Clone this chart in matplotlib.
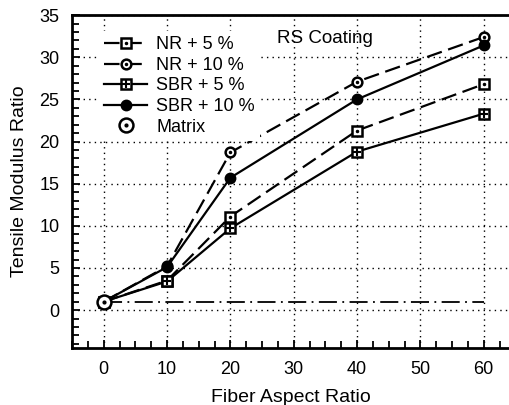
import matplotlib

matplotlib.use("Agg")
import matplotlib.pyplot as plt  # noqa: E402
from matplotlib.legend_handler import HandlerTuple  # noqa: E402
from matplotlib.ticker import MultipleLocator  # noqa: E402

plt.rcParams["font.family"] = ["Liberation Sans", "DejaVu Sans"]

# data
aspect_ratio = [0, 10, 20, 40, 60]
nr_5 = [1.0, 3.5, 11.1, 21.3, 26.8]
nr_10 = [1.0, 5.2, 18.7, 27.1, 32.4]
sbr_5 = [1.0, 3.4, 9.7, 18.8, 23.3]
sbr_10 = [1.0, 5.1, 15.7, 25.0, 31.4]
matrix_x = [0, 60]
matrix_y = [1.0, 1.0]
series_labels = ["NR + 5 %", "NR + 10 %", "SBR + 5 %", "SBR + 10 %", "Matrix"]

fig = plt.figure(figsize=(5.09, 4.05), dpi=100)
ax = fig.add_axes([0.1415, 0.1407, 0.8585, 0.822])

LONG_DASH = (0, (7, 3))
DASH_DOT = (0, (10, 3, 1, 3))

ax.plot(matrix_x, matrix_y, color="black", linestyle=DASH_DOT, linewidth=1.3)

h1 = ax.plot(aspect_ratio, nr_5, color="black", linestyle=LONG_DASH, linewidth=1.6,
             marker="s", markersize=7, mfc="white", mec="black", mew=1.8)[0]
h1d = ax.plot(aspect_ratio, nr_5, linestyle="none", marker=".", markersize=3, color="black")[0]
h2 = ax.plot(aspect_ratio, nr_10, color="black", linestyle=LONG_DASH, linewidth=1.6,
             marker="o", markersize=7, mfc="white", mec="black", mew=1.8)[0]
h2d = ax.plot(aspect_ratio, nr_10, linestyle="none", marker=".", markersize=3, color="black")[0]
h3 = ax.plot(aspect_ratio, sbr_5, color="black", linestyle="-", linewidth=1.6,
             marker="s", markersize=7, mfc="white", mec="black", mew=1.8)[0]
h3d = ax.plot(aspect_ratio, sbr_5, linestyle="none", marker="+", markersize=6, mew=1.5, color="black")[0]
h4 = ax.plot(aspect_ratio, sbr_10, color="black", linestyle="-", linewidth=1.6,
             marker="o", markersize=7, mfc="black", mec="black", mew=1.5)[0]
h5 = ax.plot([0], [1.0], linestyle="none", marker="o", markersize=10, mfc="white",
             mec="black", mew=1.8)[0]
h5d = ax.plot([0], [1.0], linestyle="none", marker=".", markersize=4, color="black")[0]

leg = ax.legend([(h1, h1d), (h2, h2d), (h3, h3d), h4, (h5, h5d)], series_labels,
                handler_map={tuple: HandlerTuple(ndivide=1, pad=0)},
                loc="upper left", bbox_to_anchor=(0.04, 0.98), frameon=True,
                facecolor="white", edgecolor="none", framealpha=1.0, fancybox=False,
                fontsize=13, handlelength=2.4, labelspacing=0.2, handletextpad=0.5,
                borderpad=0.3)

ax.text(0.469, 0.931, "RS Coating", transform=ax.transAxes, fontsize=13.5, va="center")

ax.set_xlim(-5, 64)
ax.set_ylim(-4.5, 35)
ax.xaxis.set_major_locator(MultipleLocator(10))
ax.xaxis.set_minor_locator(MultipleLocator(2.5))
ax.yaxis.set_major_locator(MultipleLocator(5))
ax.yaxis.set_minor_locator(MultipleLocator(1))
ax.tick_params(which="both", direction="in", top=False, right=False, labelsize=13, width=1.3)
ax.tick_params(which="major", length=6, pad=9)
ax.tick_params(which="minor", length=5)
ax.grid(True, which="major", color="black", linestyle=(0, (1, 3)), linewidth=1.0)

for side in ("left", "bottom", "top"):
    ax.spines[side].set_linewidth(2)
ax.spines["right"].set_visible(False)

ax.set_xlabel("Fiber Aspect Ratio", fontsize=14, labelpad=8)
ax.set_ylabel("Tensile Modulus Ratio", fontsize=14, labelpad=8)

fig.savefig("out.png", dpi=100)
